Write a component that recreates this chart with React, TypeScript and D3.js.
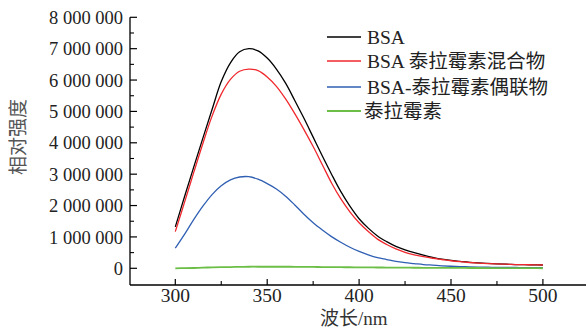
import React from "react";
import * as d3 from "d3";

const wavelengths = [300,305,310,315,320,325,330,335,340,345,350,355,360,365,370,375,380,385,390,395,400,405,410,415,420,425,430,435,440,445,450,455,460,465,470,475,480,485,490,495,500];

const bsa = [1.32,2.28,3.22,4.15,5.06,5.95,6.55,6.90,7.00,6.93,6.70,6.35,5.90,5.35,4.78,4.18,3.58,3.00,2.45,1.98,1.58,1.28,1.03,0.85,0.70,0.59,0.50,0.42,0.35,0.29,0.25,0.22,0.19,0.17,0.155,0.14,0.13,0.12,0.115,0.11,0.105];
const mixture = [1.17,2.10,3.05,3.98,4.85,5.55,6.02,6.28,6.35,6.30,6.10,5.80,5.40,4.93,4.42,3.88,3.30,2.72,2.22,1.80,1.45,1.17,0.93,0.76,0.62,0.51,0.43,0.37,0.32,0.28,0.24,0.21,0.185,0.165,0.15,0.14,0.13,0.12,0.115,0.11,0.105];
const conjugate = [0.64,1.08,1.55,1.98,2.35,2.63,2.82,2.91,2.92,2.84,2.70,2.53,2.30,2.02,1.72,1.45,1.22,1.01,0.83,0.67,0.54,0.43,0.34,0.28,0.22,0.18,0.15,0.12,0.10,0.08,0.065,0.055,0.045,0.04,0.035,0.03,0.028,0.025,0.023,0.021,0.02];
const tulathromycin = [0.0,0.005,0.01,0.02,0.03,0.035,0.04,0.045,0.05,0.05,0.05,0.05,0.05,0.048,0.045,0.043,0.04,0.038,0.035,0.033,0.03,0.028,0.026,0.024,0.022,0.02,0.018,0.016,0.015,0.013,0.012,0.011,0.01,0.009,0.008,0.007,0.006,0.005,0.004,0.003,0.002];

const seriesNames = ["BSA", "BSA 泰拉霉素混合物", "BSA-泰拉霉素偶联物", "泰拉霉素"];
const seriesColors = ["#000000", "#f0282d", "#2f5fb3", "#6cbf46"];
const seriesData = [bsa, mixture, conjugate, tulathromycin];

const yTicks = [0,1,2,3,4,5,6,7,8];
const yTickLabels = ["0","1 000 000","2 000 000","3 000 000","4 000 000","5 000 000","6 000 000","7 000 000","8 000 000"];
const xTicks = [300,350,400,450,500];
const xMinorTicks = [325,375,425,475];

const serif = "'Liberation Serif', 'Times New Roman', 'Noto Sans CJK SC', serif";

export default function App() {
  const W = 586, H = 330;
  const x = d3.scaleLinear().domain([300, 500]).range([175.3, 542.9]);
  const y = d3.scaleLinear().domain([0, 8]).range([268.3, 17.3]);
  const axisLeft = 130;
  const axisBottom = 285;
  const line = d3.line<number>()
    .x((_, i) => x(wavelengths[i]))
    .y((d) => y(d))
    .curve(d3.curveCatmullRom.alpha(0.5));
  const yMinor = d3.range(0.5, 8, 1);

  return (
    <svg width={W} height={H} style={{ position: "absolute", left: 0, top: 0, background: "#fff" }}>
      {seriesData.map((s, k) => (
        <path key={k} d={line(s) || ""} fill="none" stroke={seriesColors[k]} strokeWidth={k === 3 ? 1.8 : 1.3} />
      ))}
      <line x1={axisLeft} x2={axisLeft} y1={y(8)} y2={axisBottom} stroke="#000" strokeWidth={1.3} />
      <line x1={axisLeft} x2={W} y1={axisBottom} y2={axisBottom} stroke="#000" strokeWidth={1.3} />
      {yTicks.map((t, i) => (
        <g key={"y" + t}>
          <line x1={axisLeft} x2={axisLeft + 7} y1={y(t)} y2={y(t)} stroke="#000" strokeWidth={1.2} />
          <text x={123} y={y(t)} dy="0.36em" textAnchor="end" fontFamily={serif} fontSize={18.5} fill="#222">{yTickLabels[i]}</text>
        </g>
      ))}
      {yMinor.map((t) => (
        <line key={"ym" + t} x1={axisLeft} x2={axisLeft + 4} y1={y(t)} y2={y(t)} stroke="#000" strokeWidth={1.1} />
      ))}
      {xTicks.map((t) => (
        <g key={"x" + t}>
          <line x1={x(t)} x2={x(t)} y1={axisBottom} y2={axisBottom - 6} stroke="#000" strokeWidth={1.2} />
          <text x={x(t)} y={302} textAnchor="middle" fontFamily={serif} fontSize={19.5} fill="#222">{t}</text>
        </g>
      ))}
      {xMinorTicks.map((t) => (
        <line key={"xm" + t} x1={x(t)} x2={x(t)} y1={axisBottom} y2={axisBottom - 4} stroke="#000" strokeWidth={1.1} />
      ))}
      <text x={320} y={325} fontFamily={serif} fontSize={19} fill="#333">波长/nm</text>
      <text transform="translate(25,137) rotate(-90)" textAnchor="middle" fontFamily={serif} fontSize={19} fill="#555">相对强度</text>
      {seriesNames.map((n, k) => {
        const ly = [37, 61, 87, 111][k];
        return (
          <g key={"lg" + k}>
            <line x1={327} x2={361} y1={ly} y2={ly} stroke={seriesColors[k]} strokeWidth={k === 3 ? 1.8 : 1.4} />
            <text x={k === 3 ? 364 : 367} y={ly} dy="0.36em" fontFamily={serif} fontSize={19.5} fill="#222">{n}</text>
          </g>
        );
      })}
    </svg>
  );
}
